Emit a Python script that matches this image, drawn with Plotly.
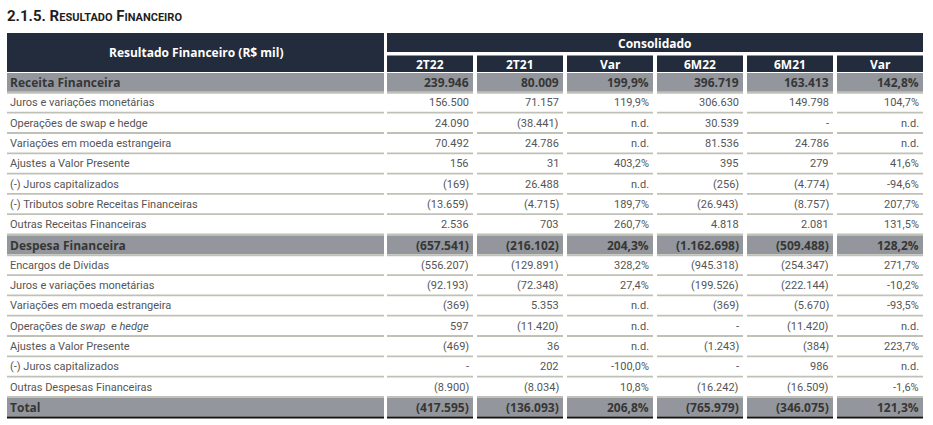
import plotly.graph_objects as go

# ---------------- data ----------------
title_text = "2.1.5. RESULTADO FINANCEIRO"
header_left = "Resultado Financeiro (R$ mil)"
group_header = "Consolidado"
col_headers = ["2T22", "2T21", "Var", "6M22", "6M21", "Var"]

row_labels = [
    "Receita Financeira",
    "Juros e variações monetárias",
    "Operações de swap e hedge",
    "Variações em moeda estrangeira",
    "Ajustes a Valor Presente",
    "(-) Juros capitalizados",
    "(-) Tributos sobre Receitas Financeiras",
    "Outras Receitas Financeiras",
    "Despesa Financeira",
    "Encargos de Dívidas",
    "Juros e variações monetárias",
    "Variações em moeda estrangeira",
    "Operações de <i>swap</i>  e <i>hedge</i>",
    "Ajustes a Valor Presente",
    "(-) Juros capitalizados",
    "Outras Despesas Financeiras",
    "Total",
]
bold_rows = [0, 8, 16]

v_2t22 = [239946, 156500, 24090, 70492, 156, -169, -13659, 2536,
          -657541, -556207, -92193, -369, 597, -469, None, -8900, -417595]
v_2t21 = [80009, 71157, -38441, 24786, 31, 26488, -4715, 703,
          -216102, -129891, -72348, 5353, -11420, 36, 202, -8034, -136093]
var_t = ["199,9%", "119,9%", "n.d.", "n.d.", "403,2%", "n.d.", "189,7%", "260,7%",
         "204,3%", "328,2%", "27,4%", "n.d.", "n.d.", "n.d.", "-100,0%", "10,8%", "206,8%"]
v_6m22 = [396719, 306630, 30539, 81536, 395, -256, -26943, 4818,
          -1162698, -945318, -199526, -369, None, -1243, None, -16242, -765979]
v_6m21 = [163413, 149798, None, 24786, 279, -4774, -8757, 2081,
          -509488, -254347, -222144, -5670, -11420, -384, 986, -16509, -346075]
var_6m = ["142,8%", "104,7%", "n.d.", "n.d.", "41,6%", "-94,6%", "207,7%", "131,5%",
          "128,2%", "271,7%", "-10,2%", "-93,5%", "n.d.", "223,7%", "n.d.", "-1,6%", "121,3%"]


def fmt(v):
    if v is None:
        return "-"
    s = f"{abs(v):,}".replace(",", ".")
    return f"({s})" if v < 0 else s


columns = [
    [fmt(v) for v in v_2t22],
    [fmt(v) for v in v_2t21],
    var_t,
    [fmt(v) for v in v_6m22],
    [fmt(v) for v in v_6m21],
    var_6m,
]

# ---------------- styling ----------------
NAVY = "#222c3c"
GRAY = "#93979d"
SEP = "#c0c1b6"
TXT = "#555555"
BOLD_TXT = "#363636"
BODY_FONT = "Roboto"
HEAD_FONT = "Open Sans"

x_left0, x_left1 = 7, 384
col_x0 = [387, 477, 567, 657, 747, 837]
col_w = 86
y_head0, y_cons1, y_sub0, y_sub1 = 33, 52, 55.5, 72
y_rows0 = 73
row_h = 20.3

fig = go.Figure()
shapes = []
annots = []


def rect(x0, x1, y0, y1, color):
    shapes.append(dict(type="rect", xref="x", yref="y", x0=x0, x1=x1, y0=y0, y1=y1,
                       fillcolor=color, line=dict(width=0), layer="below"))


# header
rect(x_left0, x_left1, y_head0, y_sub1, NAVY)
rect(col_x0[0], col_x0[-1] + col_w, y_head0, y_cons1, NAVY)
for cx in col_x0:
    rect(cx, cx + col_w, y_sub0, y_sub1, NAVY)

annots.append(dict(x=(x_left0 + x_left1) / 2, y=(y_head0 + y_sub1) / 2, text=f"<b>{header_left}</b>",
                   font=dict(family=HEAD_FONT, size=12, color="white"), xanchor="center", yanchor="middle"))
annots.append(dict(x=(col_x0[0] + col_x0[-1] + col_w) / 2, y=(y_head0 + y_cons1) / 2 + 0.5,
                   text=f"<b>{group_header}</b>",
                   font=dict(family=HEAD_FONT, size=12, color="white"), xanchor="center", yanchor="middle"))
for cx, h in zip(col_x0, col_headers):
    annots.append(dict(x=cx + col_w / 2, y=(y_sub0 + y_sub1) / 2 + 0.5, text=f"<b>{h}</b>",
                       font=dict(family=HEAD_FONT, size=12, color="white"), xanchor="center", yanchor="middle"))

# body rows
for i, lab in enumerate(row_labels):
    y0 = y_rows0 + i * row_h
    y1 = y0 + row_h
    yc = (y0 + y1) / 2
    bold = i in bold_rows
    cells = [(x_left0, x_left1)] + [(cx, cx + col_w) for cx in col_x0]
    if bold:
        for a, b in cells:
            rect(a, b, y0, y1 - 1.5, GRAY)
        line_col = "#111111" if i == len(row_labels) - 1 else SEP
        for a, b in cells:
            rect(a, b, y1 - 1.5, y1 + 0.5, line_col)
    else:
        for a, b in cells:
            rect(a, b, y1 - 1.8, y1, SEP)
    fam = HEAD_FONT if bold else BODY_FONT
    size = 12 if bold else 11
    color = BOLD_TXT if bold else TXT
    t = f"<b>{lab}</b>" if bold else lab
    annots.append(dict(x=x_left0 + 1, y=yc - 0.5, text=t, xanchor="left", yanchor="middle",
                       font=dict(family=fam, size=size, color=color)))
    for cx, col in zip(col_x0, columns):
        val = col[i]
        t = f"<b>{val}</b>" if bold else val
        annots.append(dict(x=cx + col_w - 2, y=yc - 0.5, text=t, xanchor="right", yanchor="middle",
                           font=dict(family=fam, size=size, color=color)))

# title with small caps effect
title_html = ("<b>2.1.5. R<span style='font-size:11px'>ESULTADO</span> "
              "F<span style='font-size:11px'>INANCEIRO</span></b>")
annots.append(dict(x=5, y=16, text=title_html, xanchor="left", yanchor="middle",
                   font=dict(family="Roboto", size=15, color="#1e1e1e")))

for a in annots:
    a.update(xref="x", yref="y", showarrow=False)

fig.update_layout(
    width=933, height=425,
    margin=dict(l=0, r=0, t=0, b=0),
    paper_bgcolor="white", plot_bgcolor="white",
    xaxis=dict(range=[0, 933], visible=False, fixedrange=True),
    yaxis=dict(range=[425, 0], visible=False, fixedrange=True),
    shapes=shapes, annotations=annots, showlegend=False,
)
fig.write_html("out.html", config={"displayModeBar": False},
               post_script="document.body.style.margin='0';document.body.style.overflow='hidden';")
